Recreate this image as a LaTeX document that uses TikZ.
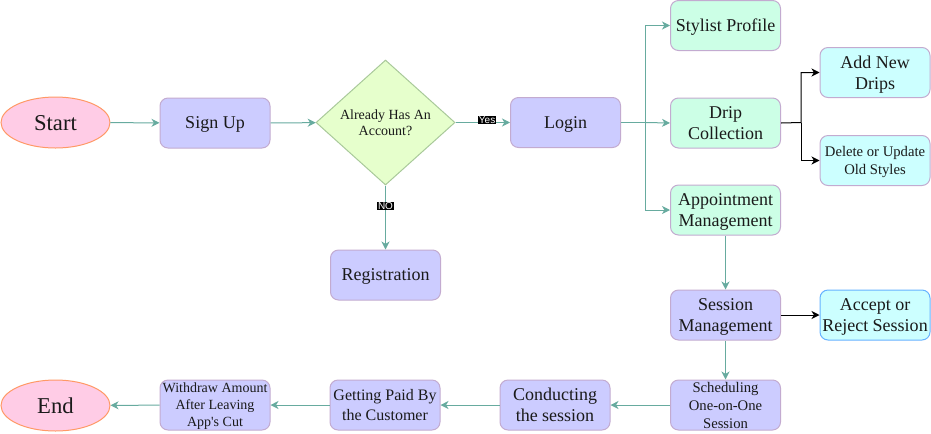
\documentclass[tikz,border=0pt]{standalone}
\usepackage{fontspec}
\setmainfont{Liberation Serif}
\newfontfamily\labfont{Liberation Sans}
\usetikzlibrary{shapes.geometric,arrows.meta}
\definecolor{teal1}{HTML}{67AB9F}
\definecolor{pinkf}{HTML}{FFCCE6}
\definecolor{pinkd}{HTML}{FF9966}
\definecolor{lilf}{HTML}{CCCCFF}
\definecolor{lild}{HTML}{C3ABD0}
\definecolor{greenf}{HTML}{E6FFCC}
\definecolor{greend}{HTML}{A9C99A}
\definecolor{mintf}{HTML}{CCFFE6}
\definecolor{cyanf}{HTML}{CCFFFF}
\definecolor{blued}{HTML}{66B2FF}
\definecolor{txt}{HTML}{1A1A1A}
\tikzset{
  term/.style={ellipse, draw=pinkd, fill=pinkf, line width=0.75pt, minimum width=81.75pt, minimum height=38.25pt, inner sep=0pt, text depth=-3.5pt, text=txt, font=\fontsize{17}{20}\selectfont},
  box/.style={rectangle, rounded corners=6pt, draw=lild, fill=lilf, line width=0.75pt, minimum width=82.5pt, minimum height=37.5pt, inner sep=1pt, text depth=-2.5pt, align=center, text=txt, font=\fontsize{13.5}{16}\selectfont},
  one/.style={text depth=-4.5pt},
  mbox/.style={box, fill=mintf},
  cbox/.style={box, fill=cyanf},
  dec/.style={diamond, draw=greend, fill=greenf, line width=0.75pt, minimum width=104.25pt, minimum height=93.75pt, inner sep=0pt, text depth=-2pt, align=center, text=txt, font=\fontsize{10.5}{12}\selectfont},
  arr/.style={draw=teal1, line width=0.75pt, -{Stealth[length=6pt,width=6pt,inset=1.8pt]}},
  barr/.style={draw=black, line width=0.75pt, -{Stealth[length=6pt,width=6pt,inset=1.8pt]}},
  elab/.style={fill=black, text=white, inner sep=0.5pt, font=\labfont\fontsize{7.5}{8}\selectfont}
}
\begin{document}
\begin{tikzpicture}[x=0.75pt,y=-0.75pt]
\useasboundingbox (0,0) rectangle (931,433);
\node[term] (start) at (55.5,122.5) {Start};
\node[box, one] (signup) at (215,123) {Sign Up};
\node[dec] (dia) at (385.5,122.5) {Already Has An\\Account?};
\node[box, one] (login) at (565.5,122.5) {Login};
\node[box, one] (reg) at (385.5,275) {Registration};
\node[mbox, one] (stylist) at (725.5,25.5) {Stylist Profile};
\node[mbox] (drip) at (725.5,123) {Drip\\Collection};
\node[mbox] (appt) at (725.5,210) {Appointment\\Management};
\node[cbox] (add) at (875,72.5) {Add New\\Drips};
\node[cbox, font=\fontsize{11}{13.5}\selectfont] (del) at (875,160.5) {Delete or Update\\Old Styles};
\node[box] (sess) at (725.5,315) {Session\\Management};
\node[cbox, draw=blued] (accept) at (875,315) {Accept or\\Reject Session};
\node[box, font=\fontsize{11}{13.5}\selectfont] (sched) at (725.5,405) {Scheduling\\One-on-One\\Session};
\node[box] (cond) at (555,405) {Conducting\\the session};
\node[box, font=\fontsize{12}{14.5}\selectfont] (paid) at (385,405) {Getting Paid By\\the Customer};
\node[box, font=\fontsize{10.5}{12.75}\selectfont] (withdraw) at (215,405) {Withdraw Amount\\After Leaving\\App\textquotesingle s Cut};
\node[term] (end) at (55.5,405.5) {End};
\coordinate (f1) at (645.5,122.5);
\coordinate (f2) at (801,122.5);
\draw[arr] (start) -- (signup);
\draw[arr] (signup) -- (dia);
\draw[arr] (dia) -- node[elab, pos=0.58, yshift=2pt] {Yes} (login);
\draw[arr] (dia) -- node[elab, pos=0.32] {NO} (reg);
\draw[arr] (login.east) -- (f1) |- (stylist.west);
\draw[arr] (f1) -- (drip.west);
\draw[arr] (f1) |- (appt.west);
\draw[barr] (drip.east) -- (f2) |- (add.west);
\draw[barr] (f2) |- (del.west);
\draw[arr] (appt) -- (sess);
\draw[barr] (sess) -- (accept);
\draw[arr] (sess) -- (sched);
\draw[arr] (sched) -- (cond);
\draw[arr] (cond) -- (paid);
\draw[arr] (paid) -- (withdraw);
\draw[arr] (withdraw) -- (end);
\end{tikzpicture}
\end{document}
